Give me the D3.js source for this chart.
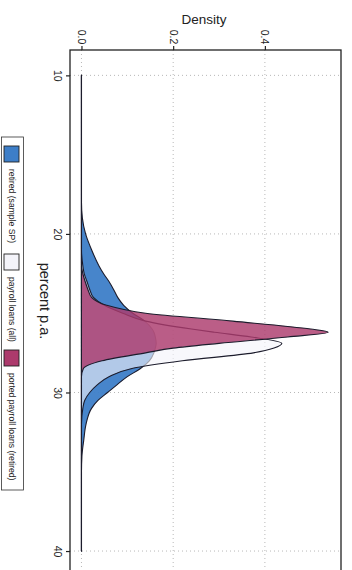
<!DOCTYPE html>
<html>
<head>
<meta charset="utf-8">
<script src="https://cdn.jsdelivr.net/npm/d3@7/dist/d3.min.js"></script>
<style>
  body { margin: 0; background: #fff; }
  svg { display: block; font-family: "Liberation Sans", Arial, sans-serif; }
</style>
</head>
<body>
<svg id="chart" width="352" height="570"></svg>
<script>
// interest rate grid (percent p.a.) and the densities
var rates          = [10, 18, 19, 20, 21, 22, 22.5, 23, 23.5, 24, 24.5, 25, 25.5, 26, 26.2, 26.5, 26.9, 27.2, 27.5, 28, 28.5, 29, 29.5, 30, 30.5, 31, 32, 33, 34, 35, 40];
var retiredDensity = [0, 0, 0.002, 0.009, 0.022, 0.038, 0.048, 0.06, 0.07, 0.079, 0.092, 0.112, 0.138, 0.154, 0.158, 0.161, 0.163, 0.161, 0.158, 0.148, 0.128, 0.10, 0.078, 0.057, 0.036, 0.022, 0.01, 0.005, 0.001, 0, 0];
var payrollDensity = [0, 0, 0, 0, 0, 0.003, 0.006, 0.012, 0.018, 0.026, 0.05, 0.09, 0.14, 0.24, 0.29, 0.37, 0.437, 0.42, 0.375, 0.22, 0.108, 0.06, 0.035, 0.018, 0.007, 0.003, 0, 0, 0, 0, 0];
var portedDensity  = [0, 0, 0, 0, 0, 0, 0.003, 0.008, 0.014, 0.022, 0.055, 0.14, 0.33, 0.50, 0.538, 0.45, 0.30, 0.20, 0.14, 0.045, 0.004, 0, 0, 0, 0, 0, 0, 0, 0, 0, 0];

var seriesNames = ['retired (sample SP)', 'payroll loans (all)', 'ported payroll loans (retired)'];
var seriesValues = [retiredDensity, payrollDensity, portedDensity];
var seriesColors = ['#3d7ec8', '#f4f4fa', '#ac3a6c'];
var seriesOpacity = [0.95, 0.62, 0.82];

var rateTicks = [10, 20, 30, 40];
var densityTicks = [0, 0.2, 0.4];

var svg = d3.select('#chart');

// plot box (chart is turned on its side: rate runs down, density runs right)
var box = { left: 70, right: 341, top: 50, bottom: 578 };

var x = d3.scaleLinear().domain([-0.025, 0.566]).range([box.left, box.right]);
var y = d3.scaleLinear().domain([8.4, 41.7]).range([box.top, box.bottom]);

// dotted grid
svg.append('g').selectAll('line')
  .data(densityTicks)
  .enter().append('line')
  .attr('x1', function (d) { return x(d); })
  .attr('x2', function (d) { return x(d); })
  .attr('y1', box.top)
  .attr('y2', box.bottom)
  .attr('stroke', '#b8b8b8')
  .attr('stroke-width', 1)
  .attr('stroke-dasharray', '1,3');

svg.append('g').selectAll('line')
  .data(rateTicks)
  .enter().append('line')
  .attr('y1', function (d) { return y(d); })
  .attr('y2', function (d) { return y(d); })
  .attr('x1', box.left)
  .attr('x2', box.right)
  .attr('stroke', '#b8b8b8')
  .attr('stroke-width', 1)
  .attr('stroke-dasharray', '1,3');

// density polygons
var area = d3.area()
  .y(function (d) { return y(d[0]); })
  .x0(x(0))
  .x1(function (d) { return x(d[1]); })
  .curve(d3.curveMonotoneY);

seriesValues.forEach(function (vals, i) {
  var pts = rates.map(function (r, j) { return [r, vals[j]]; });
  svg.append('path')
    .datum(pts)
    .attr('d', area)
    .attr('fill', seriesColors[i])
    .attr('fill-opacity', seriesOpacity[i])
    .attr('stroke', '#1c1c2c')
    .attr('stroke-width', 1.1)
    .attr('stroke-linejoin', 'round');
});

// box
svg.append('rect')
  .attr('x', box.left)
  .attr('y', box.top)
  .attr('width', box.right - box.left)
  .attr('height', box.bottom - box.top)
  .attr('fill', 'none')
  .attr('stroke', '#222')
  .attr('stroke-width', 1.3);

// density axis on top
var topAxis = svg.append('g')
  .attr('transform', 'translate(0,' + box.top + ')')
  .call(d3.axisTop(x).tickValues(densityTicks).tickFormat(d3.format('.1f')).tickSize(4).tickSizeOuter(0));
topAxis.select('.domain').remove();
topAxis.selectAll('line').attr('stroke', '#222').attr('stroke-width', 1.2);
topAxis.selectAll('text')
  .attr('font-size', 10.5)
  .attr('fill', '#222')
  .attr('text-anchor', 'middle')
  .attr('dy', null)
  .attr('dominant-baseline', 'central')
  .attr('transform', 'translate(0,-13) rotate(90)')
  .attr('y', 0)
  .attr('x', 0);

// rate axis on the left
var leftAxis = svg.append('g')
  .attr('transform', 'translate(' + box.left + ',0)')
  .call(d3.axisLeft(y).tickValues(rateTicks).tickSize(4).tickSizeOuter(0));
leftAxis.select('.domain').remove();
leftAxis.selectAll('line').attr('stroke', '#222').attr('stroke-width', 1.2);
leftAxis.selectAll('text')
  .attr('font-size', 10.5)
  .attr('fill', '#222')
  .attr('text-anchor', 'middle')
  .attr('dy', null)
  .attr('dominant-baseline', 'central')
  .attr('x', 0)
  .attr('y', 0)
  .attr('transform', 'translate(-12,0) rotate(90)');

// axis titles
svg.append('text')
  .attr('x', 204)
  .attr('y', 19)
  .attr('text-anchor', 'middle')
  .attr('dominant-baseline', 'central')
  .attr('font-size', 13.5)
  .attr('fill', '#222')
  .text('Density');

svg.append('text')
  .attr('transform', 'translate(45,301) rotate(90)')
  .attr('text-anchor', 'middle')
  .attr('dominant-baseline', 'central')
  .attr('font-size', 14.5)
  .attr('fill', '#222')
  .text('percent p.a.');

// legend, turned like the rest
var legend = svg.append('g');
legend.append('rect')
  .attr('x', 1.5)
  .attr('y', 137)
  .attr('width', 22)
  .attr('height', 353)
  .attr('fill', '#fff')
  .attr('stroke', '#333')
  .attr('stroke-width', 0.8);

var legendY = [146, 254, 350];
var item = legend.selectAll('g.item')
  .data(seriesNames)
  .enter().append('g')
  .attr('class', 'item')
  .attr('transform', function (d, i) { return 'translate(4,' + legendY[i] + ')'; });

item.append('rect')
  .attr('width', 15)
  .attr('height', 16)
  .attr('fill', function (d, i) { return seriesColors[i]; })
  .attr('stroke', '#222')
  .attr('stroke-width', 0.9);

item.append('text')
  .attr('transform', 'translate(8,23) rotate(90)')
  .attr('dominant-baseline', 'central')
  .attr('font-size', 8.6)
  .attr('fill', '#222')
  .text(function (d) { return d; });
</script>
</body>
</html>
